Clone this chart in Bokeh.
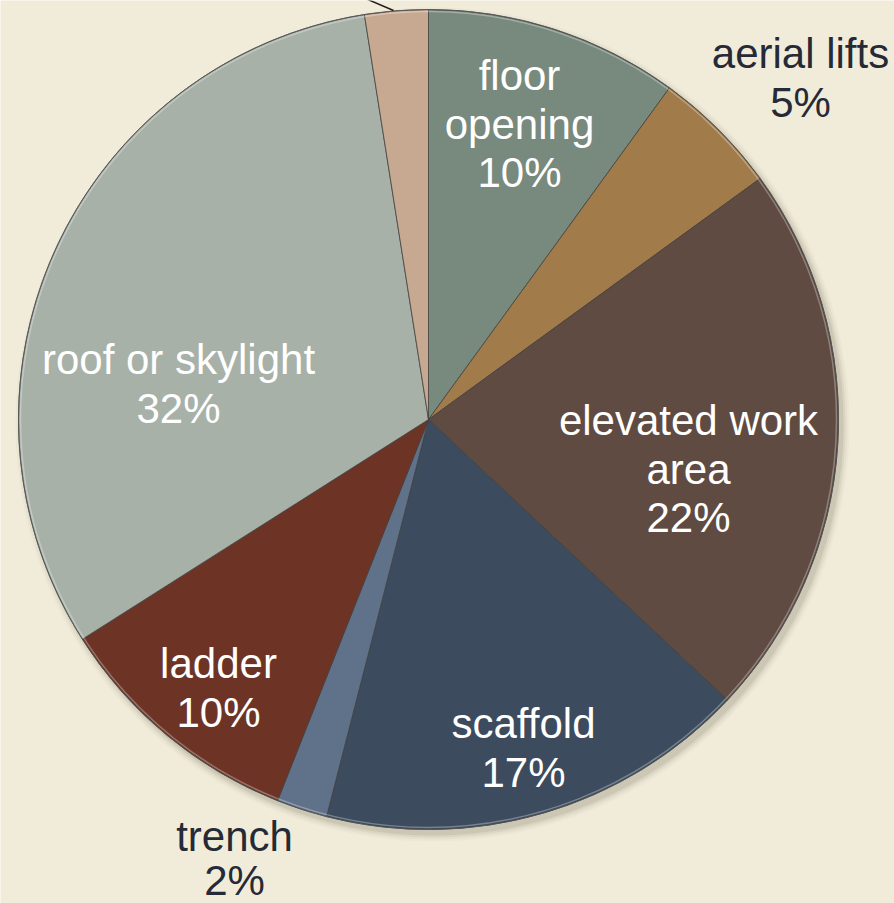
import math
from bokeh.plotting import figure
from bokeh.models import Range1d, ColumnDataSource
from bokeh.core.properties import value
from bokeh.embed import file_html
from bokeh.resources import INLINE

# ---- data (clockwise from 12 o'clock) ----
categories = ["floor opening", "aerial lifts", "elevated work area", "scaffold",
              "trench", "ladder", "roof or skylight", "other"]
shares = [10, 5, 22, 17, 2, 10, 31.5, 2.5]
pct_labels = ["10%", "5%", "22%", "17%", "2%", "10%", "32%", "2%"]
colors = ["#78897D", "#A27B4B", "#5F4B41", "#3C4C5E",
          "#60728A", "#6D3426", "#A7B1A8", "#C6A990"]

# label lines (name parts) and placement in reference pixel coords (x center, first baseline, gap)
label_lines = [["floor", "opening"], ["aerial lifts"], ["elevated work", "area"], ["scaffold"],
               ["trench"], ["ladder"], ["roof or skylight"], []]
label_pos = [(519, 75, 48.5), (800, 53, 48.5), (688, 420, 48.5), (523, 723, 48.5),
             (234, 836, 44), (218, 663, 48.5), (178, 359, 48.5), None]
label_color = ["white", "#262A36", "white", "white", "#262A36", "white", "white", "white"]

BG = "#F1ECDA"
W, H = 894, 903

def Y(y):  # reference pixel row -> data y
    return H - y

CX, CY, R = 428, Y(419), 410

p = figure(width=W, height=H, output_backend="svg", toolbar_location=None,
           x_range=Range1d(0, W), y_range=Range1d(0, H), min_border=0)
p.axis.visible = False
p.grid.visible = False
p.outline_line_color = None
p.background_fill_color = BG
p.border_fill_color = BG

# soft shadow (bottom-right)
for k, a in [(7, 0.03), (5, 0.05), (3, 0.07), (1, 0.10)]:
    p.circle(x=[CX + 4], y=[CY - 5], radius=R + k, fill_color="#5a5038", fill_alpha=a,
             line_color=None)

total = sum(shares)
starts, ends = [], []
cum = 0.0
for s in shares:
    starts.append(math.pi / 2 - 2 * math.pi * cum / total)
    cum += s
    ends.append(math.pi / 2 - 2 * math.pi * cum / total)

src = ColumnDataSource(dict(cat=categories, start=starts, end=ends, color=colors))
p.wedge(x=CX, y=CY, radius=R, start_angle="start", end_angle="end", direction="clock",
        fill_color="color", line_color="#3F3F3F", line_width=1, line_alpha=0.75, source=src)

# rim highlight
p.circle(x=[CX], y=[CY], radius=R - 2, fill_color=None, line_color="white", line_alpha=0.3,
         line_width=1.5)
p.circle(x=[CX], y=[CY], radius=R, fill_color=None, line_color="#555555", line_alpha=0.8,
         line_width=1)

# leader line for the unlabeled slice at top
p.line(x=[393, 330], y=[Y(10), Y(-17)], line_color="#1E1E1E", line_width=1.5)

xs, ys, txt, cols = [], [], [], []
for lines, pos, pct, col in zip(label_lines, label_pos, pct_labels, label_color):
    if pos is None:
        continue
    x0, y0, gap = pos
    for i, t in enumerate(lines + [pct]):
        xs.append(x0)
        ys.append(Y(y0 + i * gap))
        txt.append(t)
        cols.append(col)

p.text(x=xs, y=ys, text=txt, text_color=cols, text_align="center", text_baseline="alphabetic",
       text_font=value("Liberation Sans"), text_font_size="42px")

open("out.html", "w").write(file_html(p, INLINE))
